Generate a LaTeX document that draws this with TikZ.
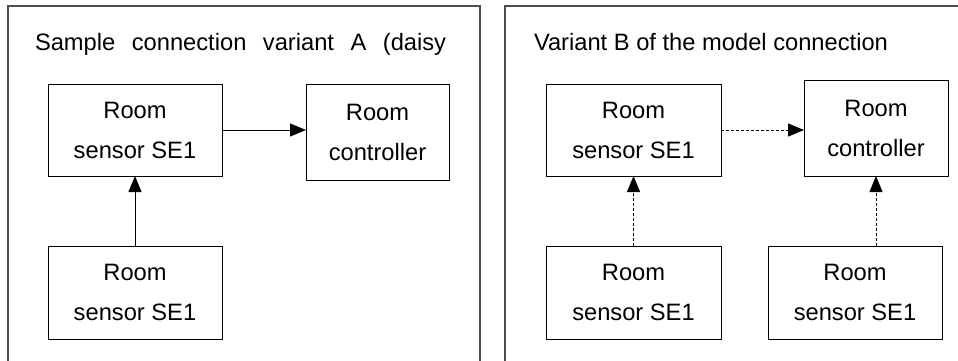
\documentclass[tikz,border=0pt]{standalone}
\usepackage{fontspec}
\setmainfont{Liberation Sans}
\usetikzlibrary{arrows.meta}
\tikzstyle{every node}=[inner sep=0pt,outer sep=0pt]
\tikzstyle{box}=[draw=black,line width=1pt,align=center,font=\fontsize{23.7}{40}\selectfont]
\tikzstyle{frame}=[draw=black!70,line width=1.3pt]
\tikzstyle{conn}=[-{Triangle[length=16pt,width=13pt]},line width=1pt]

\begin{document}
\begin{tikzpicture}[x=1pt,y=-1pt]
	\useasboundingbox (0,0) rectangle (958,360);
	\clip (0,0) rectangle (958,360);
	\fill[white] (0,0) rectangle (958,360);

	% two panels
	\draw[frame] (8,372) |- (480,6) -- (480,372);
	\draw[frame] (505,372) |- (968,6);

	\node[anchor=base west,font=\fontsize{23.7}{28}\selectfont] (ta) at (35,50)
	  {Sample\hspace{16.5pt}connection\hspace{16.5pt}variant\hspace{16.5pt}A\hspace{16.5pt}(daisy};
	\node[anchor=base west,font=\fontsize{23.7}{28}\selectfont] (tb) at (534,50)
	  {Variant B of the model connection};

	% variant A
	\node[box,minimum width=174pt,minimum height=92pt] (a1) at (135,130) {Room\\sensor SE1};
	\node[box,minimum width=143pt,minimum height=96pt] (a2) at (377.5,132) {Room\\controller};
	\node[box,minimum width=174pt,minimum height=93pt] (a3) at (135,292.5) {Room\\sensor SE1};

	\draw[conn] (a1.east) -- (a1.east -| a2.west);
	\draw[conn] (a3.north) -- (a1.south);

	% variant B
	\node[box,minimum width=175pt,minimum height=92pt] (b1) at (633.5,130) {Room\\sensor SE1};
	\node[box,minimum width=144pt,minimum height=96pt] (b2) at (876,128) {Room\\controller};
	\node[box,minimum width=175pt,minimum height=93pt] (b3) at (633.5,292.5) {Room\\sensor SE1};
	\node[box,minimum width=174pt,minimum height=93pt] (b4) at (855,292.5) {Room\\sensor SE1};

	\draw[conn,dash pattern=on 3pt off 2pt] (b1.east) -- (b1.east -| b2.west);
	\draw[conn,dash pattern=on 3pt off 2pt] (b3.north) -- (b1.south);
	\draw[conn,dash pattern=on 3pt off 2pt] (b4.north -| b2.south) -- (b2.south);
\end{tikzpicture}
\end{document}
